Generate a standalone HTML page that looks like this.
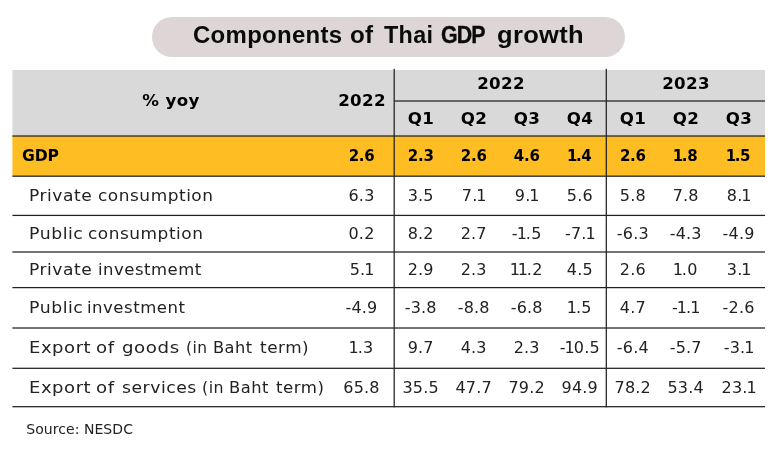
<!DOCTYPE html><html lang='en'><head><meta charset='utf-8'><title>Components of Thai GDP growth</title><style>
html,body{margin:0;padding:0;background:#fff;}
body{width:780px;height:456px;position:relative;overflow:hidden;font-family:"DejaVu Sans","Liberation Sans",sans-serif;color:#222;}
svg.bg{position:absolute;left:0;top:0;}
.t{position:absolute;white-space:nowrap;line-height:1;transform:translate(-50%,0);text-align:center;}
.l{position:absolute;white-space:nowrap;line-height:1;}
.title{position:absolute;left:0;width:780px;height:23px;line-height:1;white-space:nowrap;font-family:"Liberation Sans",sans-serif;font-weight:bold;font-size:23px;letter-spacing:0.3px;color:#0a0a0a;}
.title span{position:absolute;top:0;display:inline-block;transform-origin:0 50%;}
.hb{font-weight:bold;font-size:15px;color:#000;letter-spacing:0.3px;transform:translate(-50%,0) scaleX(1.11);}
.gb{font-weight:bold;font-size:15px;color:#000;letter-spacing:-0.3px;}
.n{font-size:16px;letter-spacing:0.2px;}
.lab{position:absolute;left:0;width:328px;height:16px;font-size:16px;line-height:1;letter-spacing:0.5px;white-space:nowrap;}
.lab span{position:absolute;top:0;display:inline-block;transform-origin:0 50%;}
.o{margin:0 -1.2px;}
.src{font-size:14px;letter-spacing:0.05px;}
</style></head><body>
<svg class='bg' width='780' height='456' viewBox='0 0 780 456'><rect x='152' y='17' width='473' height='40' rx='20' ry='20' fill='#ded6d6'/><rect x='12.4' y='70' width='752.6' height='66' fill='#d9d9d9'/><rect x='12.4' y='136' width='752.6' height='40.2' fill='#fdbd23'/><rect x='12.4' y='135.38' width='752.6' height='1.25' fill='#222222'/><rect x='12.4' y='175.57' width='752.6' height='1.25' fill='#222222'/><rect x='12.4' y='214.78' width='752.6' height='1.25' fill='#222222'/><rect x='12.4' y='251.38' width='752.6' height='1.25' fill='#222222'/><rect x='12.4' y='286.98' width='752.6' height='1.25' fill='#222222'/><rect x='12.4' y='327.38' width='752.6' height='1.25' fill='#222222'/><rect x='12.4' y='367.68' width='752.6' height='1.25' fill='#222222'/><rect x='12.4' y='406.07' width='752.6' height='1.25' fill='#222222'/><rect x='394.2' y='100.38' width='370.8' height='1.25' fill='#222222'/><rect x='393.57' y='68.8' width='1.25' height='338.52' fill='#222222'/><rect x='605.67' y='68.8' width='1.25' height='338.52' fill='#222222'/></svg>
<div class='title' style='top:24.2px'><span style='left:193.4px;transform:scaleX(1.041)'>Components</span> <span style='left:350.3px;transform:scaleX(1.052)'>of</span> <span style='left:384.4px;transform:scaleX(1.015)'>Thai</span> <span style='left:441.4px;letter-spacing:-1px;-webkit-text-stroke:0.35px #0a0a0a;transform:scaleX(0.93)'>GDP</span> <span style='left:496.9px;transform:scaleX(1.109)'>growth</span></div>
<div class='t hb' style='left:170.5px;top:94.0px'>% yoy</div>
<div class='t hb' style='left:361.5px;top:93.8px'>2022</div>
<div class='t hb' style='left:500.8px;top:76.8px'>2022</div>
<div class='t hb' style='left:685.6px;top:76.8px'>2023</div>
<div class='t hb' style='left:421.2px;top:111.8px'>Q1</div>
<div class='t hb' style='left:474.2px;top:111.8px'>Q2</div>
<div class='t hb' style='left:527.2px;top:111.8px'>Q3</div>
<div class='t hb' style='left:580.2px;top:111.8px'>Q4</div>
<div class='t hb' style='left:633.2px;top:111.8px'>Q1</div>
<div class='t hb' style='left:686.2px;top:111.8px'>Q2</div>
<div class='t hb' style='left:739.1px;top:111.8px'>Q3</div>
<div class='l gb' style='left:22.3px;top:148.5px;letter-spacing:-0.1px;transform:scaleX(1.04);transform-origin:0 50%'>GDP</div>
<div class='t gb' style='left:361.5px;top:148.5px'>2.6</div>
<div class='t gb' style='left:420.7px;top:148.5px'>2.3</div>
<div class='t gb' style='left:473.7px;top:148.5px'>2.6</div>
<div class='t gb' style='left:526.7px;top:148.5px'>4.6</div>
<div class='t gb' style='left:579.8px;top:148.5px'><span class='o'>1</span>.4</div>
<div class='t gb' style='left:632.8px;top:148.5px'>2.6</div>
<div class='t gb' style='left:685.7px;top:148.5px'><span class='o'>1</span>.8</div>
<div class='t gb' style='left:738.6px;top:148.5px'><span class='o'>1</span>.5</div>
<div class='lab' style='top:188.0px'><span style='left:28.7px;transform:scaleX(1.066)'>Private</span> <span style='left:98.4px;transform:scaleX(1.059)'>consumption</span></div>
<div class='t n' style='left:361.5px;top:188.0px'>6.3</div>
<div class='t n' style='left:420.7px;top:188.0px'>3.5</div>
<div class='t n' style='left:473.7px;top:188.0px'>7.<span class='o'>1</span></div>
<div class='t n' style='left:526.7px;top:188.0px'>9.<span class='o'>1</span></div>
<div class='t n' style='left:579.8px;top:188.0px'>5.6</div>
<div class='t n' style='left:632.8px;top:188.0px'>5.8</div>
<div class='t n' style='left:685.7px;top:188.0px'>7.8</div>
<div class='t n' style='left:738.6px;top:188.0px'>8.<span class='o'>1</span></div>
<div class='lab' style='top:225.9px'><span style='left:28.6px;transform:scaleX(1.079)'>Public</span> <span style='left:87.6px;transform:scaleX(1.058)'>consumption</span></div>
<div class='t n' style='left:361.5px;top:225.9px'>0.2</div>
<div class='t n' style='left:420.7px;top:225.9px'>8.2</div>
<div class='t n' style='left:473.7px;top:225.9px'>2.7</div>
<div class='t n' style='left:526.7px;top:225.9px'>-<span class='o'>1</span>.5</div>
<div class='t n' style='left:579.8px;top:225.9px'>-7.<span class='o'>1</span></div>
<div class='t n' style='left:632.8px;top:225.9px'>-6.3</div>
<div class='t n' style='left:685.7px;top:225.9px'>-4.3</div>
<div class='t n' style='left:738.6px;top:225.9px'>-4.9</div>
<div class='lab' style='top:262.2px'><span style='left:28.7px;transform:scaleX(1.066)'>Private</span> <span style='left:97.9px;transform:scaleX(1.029)'>investmemt</span></div>
<div class='t n' style='left:361.5px;top:262.2px'>5.<span class='o'>1</span></div>
<div class='t n' style='left:420.7px;top:262.2px'>2.9</div>
<div class='t n' style='left:473.7px;top:262.2px'>2.3</div>
<div class='t n' style='left:526.7px;top:262.2px'><span class='o'>1</span><span class='o'>1</span>.2</div>
<div class='t n' style='left:579.8px;top:262.2px'>4.5</div>
<div class='t n' style='left:632.8px;top:262.2px'>2.6</div>
<div class='t n' style='left:685.7px;top:262.2px'><span class='o'>1</span>.0</div>
<div class='t n' style='left:738.6px;top:262.2px'>3.<span class='o'>1</span></div>
<div class='lab' style='top:299.7px'><span style='left:28.6px;transform:scaleX(1.079)'>Public</span> <span style='left:87.1px;transform:scaleX(1.032)'>investment</span></div>
<div class='t n' style='left:361.5px;top:299.7px'>-4.9</div>
<div class='t n' style='left:420.7px;top:299.7px'>-3.8</div>
<div class='t n' style='left:473.7px;top:299.7px'>-8.8</div>
<div class='t n' style='left:526.7px;top:299.7px'>-6.8</div>
<div class='t n' style='left:579.8px;top:299.7px'><span class='o'>1</span>.5</div>
<div class='t n' style='left:632.8px;top:299.7px'>4.7</div>
<div class='t n' style='left:685.7px;top:299.7px'>-<span class='o'>1</span>.<span class='o'>1</span></div>
<div class='t n' style='left:738.6px;top:299.7px'>-2.6</div>
<div class='lab' style='top:339.7px'><span style='left:28.6px;transform:scaleX(1.123)'>Export</span> <span style='left:96.3px;transform:scaleX(1.133)'>of</span> <span style='left:122.0px;transform:scaleX(1.137)'>goods</span> <span style='left:185.9px;transform:scaleX(0.965)'>(in</span> <span style='left:212.6px;transform:scaleX(1.011)'>Baht</span> <span style='left:259.5px;transform:scaleX(1.053)'>term)</span></div>
<div class='t n' style='left:361.5px;top:339.7px'><span class='o'>1</span>.3</div>
<div class='t n' style='left:420.7px;top:339.7px'>9.7</div>
<div class='t n' style='left:473.7px;top:339.7px'>4.3</div>
<div class='t n' style='left:526.7px;top:339.7px'>2.3</div>
<div class='t n' style='left:579.8px;top:339.7px'>-<span class='o'>1</span>0.5</div>
<div class='t n' style='left:632.8px;top:339.7px'>-6.4</div>
<div class='t n' style='left:685.7px;top:339.7px'>-5.7</div>
<div class='t n' style='left:738.6px;top:339.7px'>-3.<span class='o'>1</span></div>
<div class='lab' style='top:379.7px'><span style='left:28.6px;transform:scaleX(1.123)'>Export</span> <span style='left:96.3px;transform:scaleX(1.133)'>of</span> <span style='left:122.0px;transform:scaleX(1.075)'>services</span> <span style='left:201.6px;transform:scaleX(0.985)'>(in</span> <span style='left:228.5px;transform:scaleX(1.019)'>Baht</span> <span style='left:276.2px;transform:scaleX(1.036)'>term)</span></div>
<div class='t n' style='left:361.5px;top:379.7px'>65.8</div>
<div class='t n' style='left:420.7px;top:379.7px'>35.5</div>
<div class='t n' style='left:473.7px;top:379.7px'>47.7</div>
<div class='t n' style='left:526.7px;top:379.7px'>79.2</div>
<div class='t n' style='left:579.8px;top:379.7px'>94.9</div>
<div class='t n' style='left:632.8px;top:379.7px'>78.2</div>
<div class='t n' style='left:685.7px;top:379.7px'>53.4</div>
<div class='t n' style='left:738.6px;top:379.7px'>23.<span class='o'>1</span></div>
<div class='l src' style='left:26.3px;top:421.8px;'>Source: NESDC</div>
</body></html>
